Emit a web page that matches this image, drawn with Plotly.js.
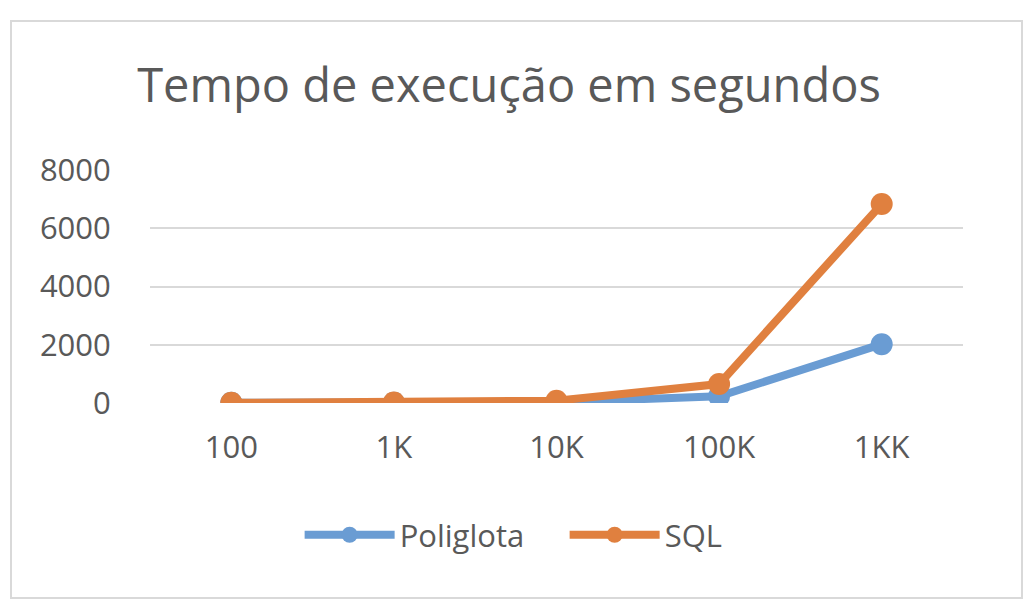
<!DOCTYPE html>
<html><head><meta charset="utf-8">
<script src="https://cdn.plot.ly/plotly-3.0.1.min.js"></script>
<style>body{margin:0;background:#fff}#c{width:1028px;height:610px}</style>
</head><body><div id="c"></div>
<script>
const categories = ["100", "1K", "10K", "100K", "1KK"];
const poliglota = [5, 10, 30, 230, 2020];
const sql = [5, 15, 80, 650, 6830];
const yTicks = [0, 2000, 4000, 6000, 8000];

const font = "Open Sans, Liberation Sans, sans-serif";
const textColor = "#595959";

const traces = [
  {x: categories, y: poliglota, name: "Poliglota", type: "scatter", mode: "lines+markers",
   line: {color: "#6A9CD3", width: 8}, marker: {color: "#6A9CD3", size: 22}},
  {x: categories, y: sql, name: "SQL", type: "scatter", mode: "lines+markers",
   line: {color: "#E0803F", width: 8}, marker: {color: "#E0803F", size: 22}}
];

const layout = {
  width: 1028, height: 610,
  margin: {l: 150, r: 65, t: 170, b: 207},
  paper_bgcolor: "#fff", plot_bgcolor: "#fff",
  showlegend: true,
  title: {text: "Tempo de execução em segundos", font: {family: font, size: 47, color: textColor},
          x: 0.5 - 5/1028, xanchor: "center", y: 1 - 86/610, yanchor: "middle"},
  xaxis: {type: "category", range: [-0.5, 4.5], showgrid: false, zeroline: false, showline: false,
          ticks: "outside", ticklen: 17, tickcolor: "rgba(0,0,0,0)",
          tickfont: {family: font, size: 31, color: textColor}, fixedrange: true},
  yaxis: {range: [0, 8000], tickvals: yTicks, ticktext: yTicks.map(String),
          showgrid: true, gridcolor: "#D9D9D9", gridwidth: 2, zeroline: false, showline: false,
          ticks: "outside", ticklen: 32, tickcolor: "rgba(0,0,0,0)",
          tickfont: {family: font, size: 31, color: textColor}, fixedrange: true},
  legend: {orientation: "h", x: 0.51, xanchor: "center", y: -0.567, yanchor: "middle",
           font: {family: font, size: 31, color: textColor}, itemwidth: 90, entrywidth: 160},
  shapes: [{type: "rect", xref: "paper", yref: "paper",
            x0: (11-150)/813, x1: (1022-150)/813, y0: (403-598)/233, y1: (403-21)/233,
            line: {color: "#D9D9D9", width: 2}, fillcolor: "rgba(0,0,0,0)"}],
  hovermode: false
};

Plotly.newPlot("c", traces, layout, {displayModeBar: false, staticPlot: true});
</script>
</body></html>
